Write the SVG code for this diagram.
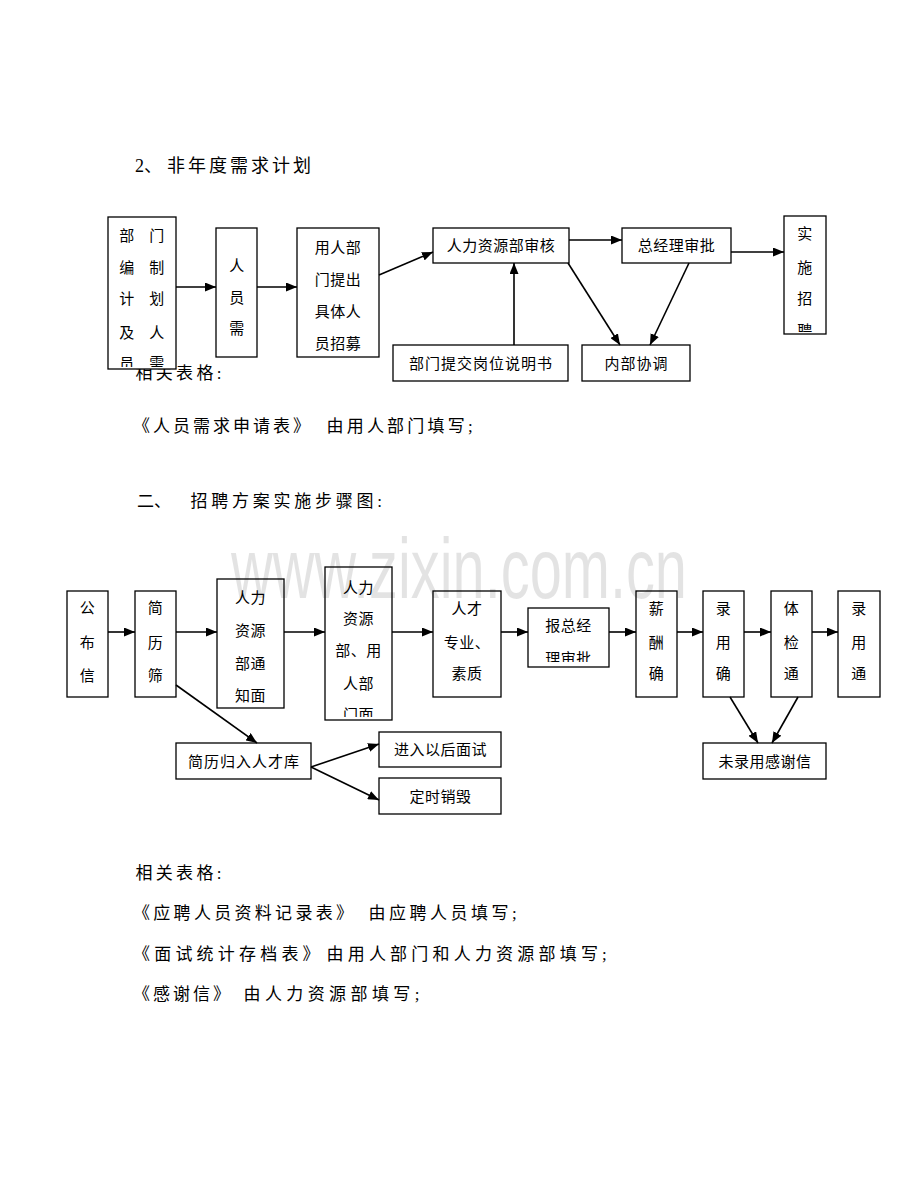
<svg xmlns="http://www.w3.org/2000/svg" width="920" height="1191" viewBox="0 0 920 1191">
<defs>
<style>
.box{fill:#fff;stroke:#000;stroke-width:1.3}
.bt{font-family:'Liberation Serif','Noto Sans CJK SC',serif;font-size:15px;text-anchor:middle;fill:#000;letter-spacing:0.5px}
.body{font-family:'Liberation Serif','Noto Sans CJK SC',serif;font-size:17px;fill:#000}
.conn line{stroke:#000;stroke-width:1.6;marker-end:url(#ah)}
</style>
<marker id="ah" markerUnits="userSpaceOnUse" markerWidth="11" markerHeight="9" refX="11" refY="4.5" orient="auto">
<path d="M0,0 L11,4.5 L0,9 z" fill="#000"/>
</marker>
<clipPath id="c1"><rect x="108" y="217" width="68" height="150"/></clipPath>
<clipPath id="c6"><rect x="784" y="216" width="42" height="116"/></clipPath>
<clipPath id="cD"><rect x="325" y="567" width="67" height="150"/></clipPath>
<clipPath id="cF"><rect x="528" y="608" width="81" height="54"/></clipPath>
</defs>
<rect width="920" height="1191" fill="#fff"/>

<!-- Headings and notes -->
<text class="body" style="font-size:18px"><tspan x="135" y="172">2、</tspan><tspan x="167" y="172" style="letter-spacing:3px">非年度需求计划</tspan></text>
<text class="body" x="135.5" y="378.5" style="letter-spacing:3.3px">相关表格:</text>
<text class="body"><tspan x="133" y="431.5" style="letter-spacing:3px">《人员需求申请表》</tspan><tspan x="326.5" y="431.5" style="letter-spacing:3.2px">由用人部门填写;</tspan></text>
<text class="body"><tspan x="137" y="506.5">二、</tspan><tspan x="190.5" y="506.5" style="letter-spacing:3.75px">招聘方案实施步骤图:</tspan></text>

<text class="body" x="135.5" y="878.5" style="letter-spacing:3.3px">相关表格:</text>
<text class="body"><tspan x="133" y="918.5" style="letter-spacing:3.3px">《应聘人员资料记录表》</tspan><tspan x="368.5" y="918.5" style="letter-spacing:3.5px">由应聘人员填写;</tspan></text>
<text class="body"><tspan x="133" y="959.5" style="letter-spacing:4.2px">《面试统计存档表》</tspan><tspan x="326.5" y="959.5" style="letter-spacing:4.2px">由用人部门和人力资源部填写;</tspan></text>
<text class="body"><tspan x="133" y="999.5" style="letter-spacing:3px">《感谢信》</tspan><tspan x="243.5" y="999.5" style="letter-spacing:4.4px">由人力资源部填写;</tspan></text>

<!-- Chart 1 nodes -->
<g id="n1">
<rect class="box" x="108" y="217" width="68" height="152"/>
<g clip-path="url(#c1)">
<text class="bt" x="127" y="240.5">部</text><text class="bt" x="157" y="240.5">门</text>
<text class="bt" x="127" y="272.5">编</text><text class="bt" x="157" y="272.5">制</text>
<text class="bt" x="127" y="304">计</text><text class="bt" x="157" y="304">划</text>
<text class="bt" x="127" y="337.5">及</text><text class="bt" x="157" y="337.5">人</text>
<text class="bt" x="127" y="369">员</text><text class="bt" x="157" y="369">需</text>
</g>
</g>
<g id="n2">
<rect class="box" x="216" y="228" width="41" height="129"/>
<text class="bt" x="237" y="270.5">人</text>
<text class="bt" x="237" y="302.5">员</text>
<text class="bt" x="237" y="333.5">需</text>
</g>
<g id="n3">
<rect class="box" x="297" y="228" width="82" height="129"/>
<text class="bt" x="338" y="252.5">用人部</text>
<text class="bt" x="338" y="284.5">门提出</text>
<text class="bt" x="338" y="316.5">具体人</text>
<text class="bt" x="338" y="348.5">员招募</text>
</g>
<g id="n4">
<rect class="box" x="433" y="228" width="136" height="35"/>
<text class="bt" x="501" y="250.5">人力资源部审核</text>
</g>
<g id="n5">
<rect class="box" x="622" y="228" width="109" height="35"/>
<text class="bt" x="676.5" y="250.5">总经理审批</text>
</g>
<g id="n6">
<rect class="box" x="784" y="216" width="42" height="118"/>
<g clip-path="url(#c6)">
<text class="bt" x="805" y="238.5">实</text>
<text class="bt" x="805" y="272.5">施</text>
<text class="bt" x="805" y="303.5">招</text>
<text class="bt" x="805" y="336">聘</text>
</g>
</g>
<g id="n7">
<rect class="box" x="393" y="345" width="175" height="36"/>
<text class="bt" x="481" y="368.5" style="letter-spacing:1px">部门提交岗位说明书</text>
</g>
<g id="n8">
<rect class="box" x="582" y="345" width="108" height="36"/>
<text class="bt" x="636.5" y="368.5" style="letter-spacing:1px">内部协调</text>
</g>

<!-- Chart 2 nodes -->
<g id="m1">
<rect class="box" x="67" y="591" width="41" height="106"/>
<text class="bt" x="87.5" y="612.5">公</text>
<text class="bt" x="87.5" y="647.5">布</text>
<text class="bt" x="87.5" y="680.5">信</text>
</g>
<g id="m2">
<rect class="box" x="135" y="591" width="41" height="106"/>
<text class="bt" x="155.5" y="612.5">简</text>
<text class="bt" x="155.5" y="647.5">历</text>
<text class="bt" x="155.5" y="680.5">筛</text>
</g>
<g id="m3">
<rect class="box" x="217" y="579" width="67" height="129"/>
<text class="bt" x="250.5" y="602.5">人力</text>
<text class="bt" x="250.5" y="635.5">资源</text>
<text class="bt" x="250.5" y="668.5">部通</text>
<text class="bt" x="250.5" y="700.5">知面</text>
</g>
<g id="m4">
<rect class="box" x="325" y="567" width="67" height="153"/>
<g clip-path="url(#cD)">
<text class="bt" x="358.5" y="592.5">人力</text>
<text class="bt" x="358.5" y="623.5">资源</text>
<text class="bt" x="358.5" y="655.5">部、用</text>
<text class="bt" x="358.5" y="688.5">人部</text>
<text class="bt" x="358.5" y="720">门面</text>
</g>
</g>
<g id="m5">
<rect class="box" x="433" y="591" width="68" height="106"/>
<text class="bt" x="467" y="613.5">人才</text>
<text class="bt" x="467" y="647.5">专业、</text>
<text class="bt" x="467" y="678.5">素质</text>
</g>
<g id="m6">
<rect class="box" x="528" y="608" width="81" height="59"/>
<g clip-path="url(#cF)">
<text class="bt" x="568.5" y="630.5">报总经</text>
<text class="bt" x="568.5" y="664">理审批</text>
</g>
</g>
<g id="m7">
<rect class="box" x="636" y="591" width="41" height="106"/>
<text class="bt" x="656.5" y="613.5">薪</text>
<text class="bt" x="656.5" y="647.5">酬</text>
<text class="bt" x="656.5" y="678.5">确</text>
</g>
<g id="m8">
<rect class="box" x="703" y="591" width="41" height="106"/>
<text class="bt" x="723.5" y="613.5">录</text>
<text class="bt" x="723.5" y="647.5">用</text>
<text class="bt" x="723.5" y="678.5">确</text>
</g>
<g id="m9">
<rect class="box" x="771" y="591" width="41" height="106"/>
<text class="bt" x="791.5" y="613.5">体</text>
<text class="bt" x="791.5" y="647.5">检</text>
<text class="bt" x="791.5" y="678.5">通</text>
</g>
<g id="m10">
<rect class="box" x="838" y="591" width="42" height="106"/>
<text class="bt" x="859" y="613.5">录</text>
<text class="bt" x="859" y="647.5">用</text>
<text class="bt" x="859" y="678.5">通</text>
</g>
<g id="m11">
<rect class="box" x="703" y="743" width="123" height="36"/>
<text class="bt" x="765" y="766.5">未录用感谢信</text>
</g>
<g id="m12">
<rect class="box" x="176" y="743" width="135" height="36"/>
<text class="bt" x="244" y="766.5" style="letter-spacing:1px">简历归入人才库</text>
</g>
<g id="m13">
<rect class="box" x="379" y="732" width="122" height="35"/>
<text class="bt" x="440.5" y="755">进入以后面试</text>
</g>
<g id="m14">
<rect class="box" x="379" y="778" width="122" height="36"/>
<text class="bt" x="440.5" y="801.5">定时销毁</text>
</g>

<!-- Connectors -->
<g id="connectors" class="conn">
<line x1="176" y1="287" x2="216" y2="287"/>
<line x1="257" y1="287" x2="297" y2="287"/>
<line x1="379" y1="275" x2="433" y2="252"/>
<line x1="569" y1="240" x2="622" y2="240"/>
<line x1="731" y1="252" x2="784" y2="252"/>
<line x1="514" y1="345" x2="514" y2="263"/>
<line x1="568" y1="263" x2="620" y2="345"/>
<line x1="689" y1="263" x2="650" y2="345"/>

<line x1="108" y1="632" x2="135" y2="632"/>
<line x1="176" y1="632" x2="217" y2="632"/>
<line x1="284" y1="632" x2="325" y2="632"/>
<line x1="392" y1="632" x2="433" y2="632"/>
<line x1="501" y1="632" x2="528" y2="632"/>
<line x1="609" y1="632" x2="636" y2="632"/>
<line x1="677" y1="632" x2="703" y2="632"/>
<line x1="744" y1="632" x2="771" y2="632"/>
<line x1="812" y1="632" x2="838" y2="632"/>
<line x1="176" y1="685" x2="257" y2="743"/>
<line x1="311" y1="767" x2="379" y2="744"/>
<line x1="311" y1="767" x2="379" y2="800"/>
<line x1="730" y1="697" x2="758" y2="743"/>
<line x1="798" y1="697" x2="772" y2="743"/>
</g>

<!-- Watermark -->
<text x="231" y="598" font-family="'Liberation Sans', Arial, sans-serif" font-size="86" textLength="456" lengthAdjust="spacingAndGlyphs" fill="#000" fill-opacity="0.11">www.zixin.com.cn</text>
</svg>
